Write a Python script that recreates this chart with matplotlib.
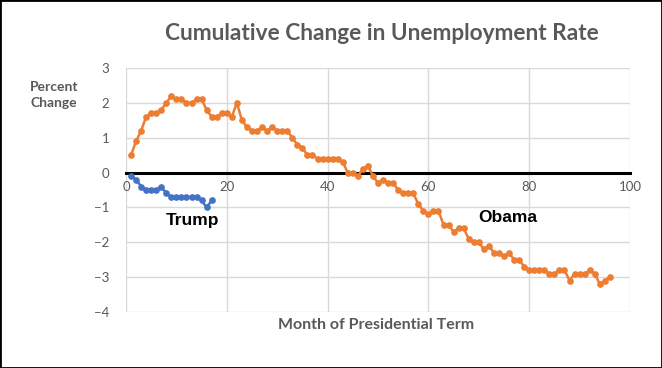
import matplotlib.pyplot as plt
from matplotlib.patches import Rectangle

# cumulative change in unemployment rate (percentage points) by month of term
obama_change = [0.5, 0.9, 1.2, 1.6, 1.7, 1.7, 1.8, 2.0, 2.2, 2.1, 2.1,
                2.0, 2.0, 2.1, 2.1, 1.8, 1.6, 1.6, 1.7, 1.7, 1.6, 2.0, 1.5,
                1.3, 1.2, 1.2, 1.3, 1.2, 1.3, 1.2, 1.2, 1.2, 1.0, 0.8, 0.7,
                0.5, 0.5, 0.4, 0.4, 0.4, 0.4, 0.4, 0.3, 0.0, 0.0, -0.1, 0.1,
                0.2, -0.1, -0.3, -0.2, -0.3, -0.3, -0.5, -0.6, -0.6, -0.6, -0.9, -1.1,
                -1.2, -1.1, -1.1, -1.5, -1.5, -1.7, -1.6, -1.6, -1.9, -2.0, -2.0, -2.2,
                -2.1, -2.3, -2.3, -2.4, -2.3, -2.5, -2.5, -2.7, -2.8, -2.8, -2.8, -2.8,
                -2.9, -2.9, -2.8, -2.8, -3.1, -2.9, -2.9, -2.9, -2.8, -2.9, -3.2, -3.1, -3.0]
trump_change = [-0.1, -0.2, -0.4, -0.5, -0.5, -0.5, -0.4, -0.6, -0.7,
                -0.7, -0.7, -0.7, -0.7, -0.7, -0.8, -1.0, -0.8]
obama_months = list(range(1, len(obama_change) + 1))
trump_months = list(range(1, len(trump_change) + 1))

x_ticks = [0, 20, 40, 60, 80, 100]
y_ticks = [3, 2, 1, 0, -1, -2, -3, -4]

orange = '#ED7D31'
blue = '#4472C4'
gray = '#595959'

fig = plt.figure(figsize=(6.62, 3.68), dpi=100)
ax = fig.add_axes([126/662, 1-312/368, 504/662, 244/368])

ax.plot(obama_months, obama_change, color=orange, lw=1.8, marker='o', ms=3.8, zorder=3)
ax.plot(trump_months, trump_change, color=blue, lw=1.8, marker='o', ms=3.8, zorder=3)

ax.set_xlim(0, 100)
ax.set_ylim(-4, 3)
ax.set_xticks(x_ticks)
ax.set_yticks(y_ticks)
ax.grid(True, color='#D9D9D9', lw=1)
ax.set_axisbelow(True)

for s in ['top', 'right', 'left']:
    ax.spines[s].set_visible(False)
ax.spines['bottom'].set_position(('data', 0))
ax.spines['bottom'].set_linewidth(2.2)
ax.spines['bottom'].set_color('black')
ax.spines['bottom'].set_zorder(2)
ax.tick_params(length=0, labelcolor=gray, labelsize=9.5)
ax.tick_params(axis='x', pad=6)
ax.tick_params(axis='y', pad=12)
for lab in ax.get_xticklabels() + ax.get_yticklabels():
    lab.set_family('Lato')

fig.text(382/662, 1-33/368, 'Cumulative Change in Unemployment Rate', ha='center', va='center',
         fontsize=16.3, fontweight='bold', color=gray, family='Lato')
fig.text(54/662, 1-95/368, 'Percent\nChange', ha='center', va='center', fontsize=10,
         fontweight='bold', color=gray, family='Lato', linespacing=1.45)
fig.text(376/662, 1-325/368, 'Month of Presidential Term', ha='center', va='center',
         fontsize=11.5, fontweight='bold', color=gray, family='Lato')
ax.text(7.8, -1.38, 'Trump', fontsize=12.5, fontweight='bold', family='Liberation Sans', va='center')
ax.text(69.8, -1.3, 'Obama', fontsize=12.5, fontweight='bold', family='Liberation Sans', va='center')

fig.patches.append(Rectangle((0, 0), 1, 1, transform=fig.transFigure, fill=False,
                             edgecolor='black', lw=2))

fig.savefig('out.png', dpi=100)
